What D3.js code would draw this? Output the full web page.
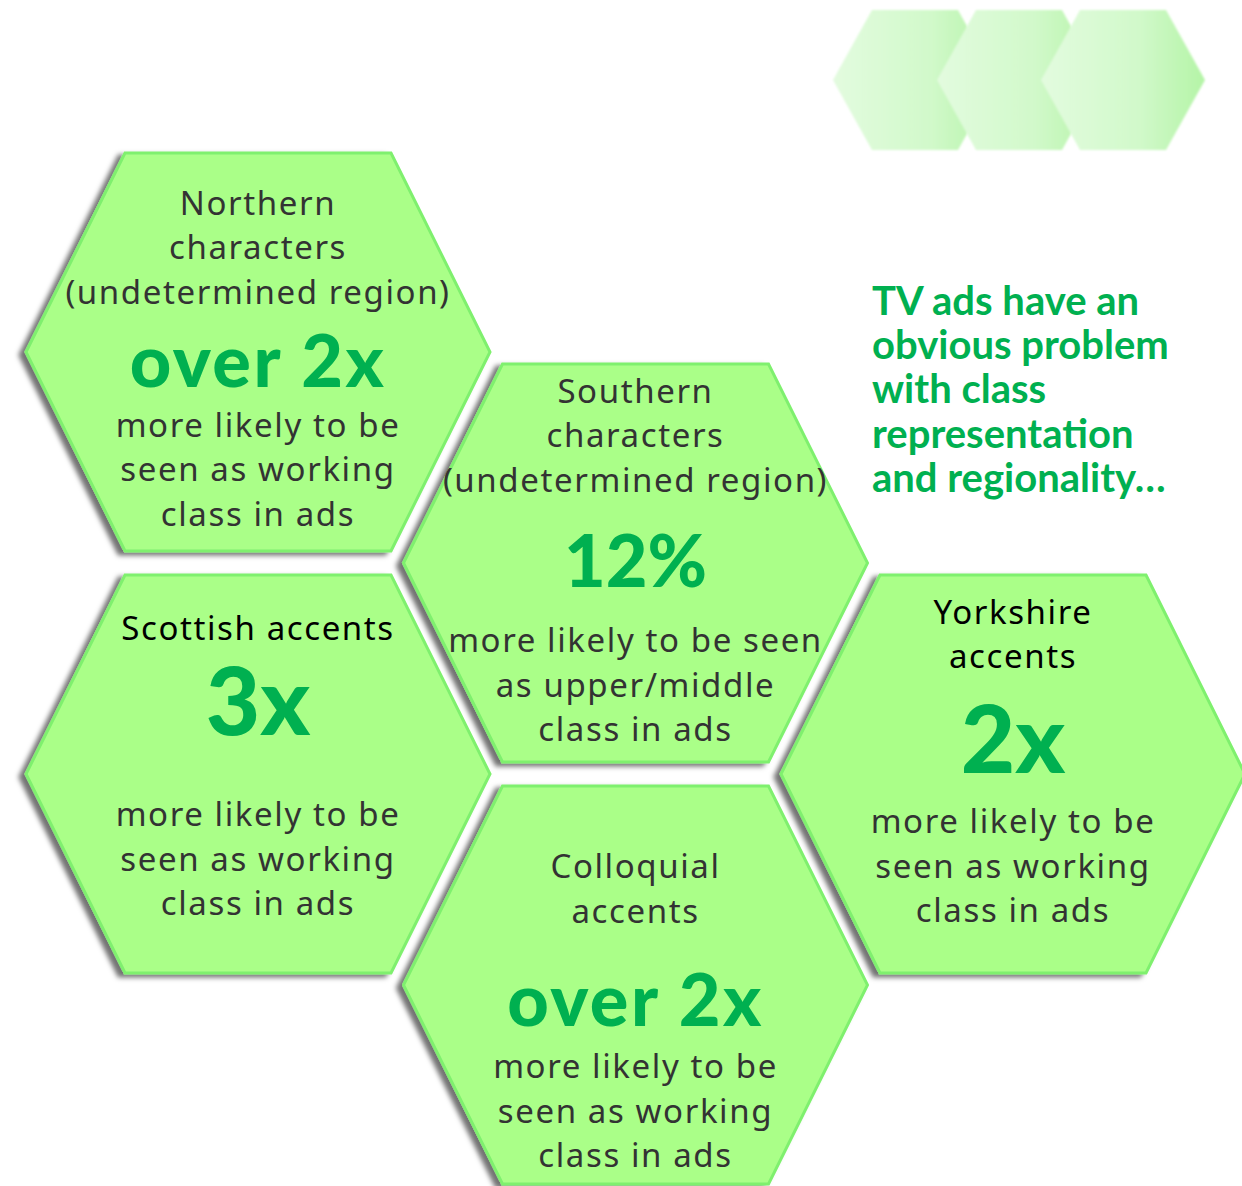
<!DOCTYPE html>
<html>
<head>
<meta charset="utf-8">
<script src="https://cdn.jsdelivr.net/npm/d3@7"></script>
<style>
  html, body { margin: 0; padding: 0; background: #fff; }
  svg { display: block; }
</style>
</head>
<body>
<svg width="1242" height="1186"></svg>
<script>
(function() {
  'use strict';

  // honeycomb cell of each statistic (draw order = back to front)
  const names = ['Northern', 'Scottish', 'Colloquial', 'Southern', 'Yorkshire'];
  const cols = [0, 0, 1, 1, 2];
  const rows = [0, 2, 3, 1, 2];
  const labels = [
    ['Northern', 'characters', '(undetermined region)'],
    ['Scottish accents'],
    ['Colloquial', 'accents'],
    ['Southern', 'characters', '(undetermined region)'],
    ['Yorkshire', 'accents'],
  ];
  const figures = ['over 2x', '3x', 'over 2x', '12%', '2x'];
  const captions = [
    ['more likely to be', 'seen as working', 'class in ads'],
    ['more likely to be', 'seen as working', 'class in ads'],
    ['more likely to be', 'seen as working', 'class in ads'],
    ['more likely to be seen', 'as upper/middle', 'class in ads'],
    ['more likely to be', 'seen as working', 'class in ads'],
  ];
  const headline = [
    'TV ads have an',
    'obvious problem',
    'with class',
    'representation',
    'and regionality\u2026',
  ];

  // where each text block sits inside its hexagon, in line units from the centre
  const slots = [
    {label: -3.08, figure: 0.79, caption: 1.91},
    {label: -3.01, figure: -0.88, caption: 1.17},
    {label: -2.40, figure: 0.92, caption: 2.09},
    {label: -3.60, figure: 0.54, caption: 2.0},
    {label: -3.38, figure: -0.02, caption: 1.33},
  ];

  const lineH = 44.5;
  const hex = {rx: 232, ry: 199, tx: 133};
  const green = '#00b050';

  const svg = d3.select('svg');

  const x = d3.scaleLinear().domain([0, 2]).range([258, 1013]);
  const y = d3.scaleLinear().domain([0, 3]).range([352, 985]);

  const items = names.map((name, i) => ({
    name: name,
    cx: x(cols[i]),
    cy: y(rows[i]),
    label: labels[i],
    figure: figures[i],
    caption: captions[i],
    slot: slots[i],
  }));

  const hexLine = d3.line().curve(d3.curveLinearClosed);
  const hexPoints = (cx, cy, rx, ry, tx) => [
    [cx - tx, cy - ry], [cx + tx, cy - ry], [cx + rx, cy],
    [cx + tx, cy + ry], [cx - tx, cy + ry], [cx - rx, cy],
  ];

  const defs = svg.append('defs');

  const shadow = defs.append('filter')
      .attr('id', 'shadow')
      .attr('x', '-10%').attr('y', '-10%')
      .attr('width', '120%').attr('height', '120%');
  shadow.append('feDropShadow')
      .attr('dx', -6)
      .attr('dy', 3)
      .attr('stdDeviation', 2.5)
      .attr('flood-color', '#000')
      .attr('flood-opacity', 0.55);

  const grad = defs.append('linearGradient')
      .attr('id', 'pale')
      .attr('x1', 0).attr('x2', 1).attr('y1', 0).attr('y2', 0);
  grad.append('stop').attr('offset', 0).attr('stop-color', '#e3fbdf');
  grad.append('stop').attr('offset', 0.6).attr('stop-color', '#d1f9ca');
  grad.append('stop').attr('offset', 1).attr('stop-color', '#b4f4a6');

  defs.append('filter')
      .attr('id', 'soft')
      .append('feGaussianBlur')
      .attr('stdDeviation', 0.8);

  // decorative pale hexagons, top right
  const dx = d3.scaleLinear().domain([0, 2]).range([915, 1123]);
  svg.append('g')
      .selectAll('path')
      .data(d3.range(3))
      .join('path')
      .attr('d', (d) => hexLine(hexPoints(dx(d), 80, 82, 70, 43)))
      .attr('fill', 'url(#pale)')
      .attr('filter', 'url(#soft)');

  // headline
  svg.append('text')
      .attr('x', 872)
      .attr('y', 315)
      .attr('fill', green)
      .style('font-family', 'Lato, sans-serif')
      .style('font-weight', 700)
      .style('font-size', '40px')
      .selectAll('tspan')
      .data(headline)
      .join('tspan')
      .attr('x', 872)
      .attr('dy', (d, i) => i === 0 ? 0 : 44.2)
      .text((d) => d);

  const cells = svg.append('g')
      .selectAll('g')
      .data(items)
      .join('g')
      .attr('class', (d) => 'cell ' + d.name);

  cells.append('path')
      .attr('d', (d) => hexLine(hexPoints(d.cx, d.cy, hex.rx, hex.ry, hex.tx)))
      .attr('fill', '#aaff88')
      .attr('stroke', '#7ff06e')
      .attr('stroke-width', 3)
      .attr('filter', 'url(#shadow)');

  const bodyFont = '"Noto Sans", sans-serif';

  cells.append('text')
      .attr('text-anchor', 'middle')
      .attr('fill', (d) => d.figure.length <= 2 ? '#000' : '#333')
      .style('font-family', bodyFont)
      .style('font-size', '33px')
      .style('letter-spacing', '1.6px')
      .selectAll('tspan')
      .data((d) => d.label.map((t, i) => ({t: t, x: d.cx, y: d.cy + (d.slot.label + i) * lineH})))
      .join('tspan')
      .attr('x', (d) => d.x)
      .attr('y', (d) => d.y)
      .text((d) => d.t);

  cells.append('text')
      .attr('text-anchor', 'middle')
      .attr('x', (d) => d.cx)
      .attr('y', (d) => d.cy + d.slot.figure * lineH)
      .attr('fill', green)
      .style('font-family', 'Lato, sans-serif')
      .style('font-weight', 900)
      .style('font-size', (d) => d.figure.length <= 2 ? '94px' : '72px')
      .style('letter-spacing', (d) => d.figure.length > 3 ? '2.5px' : '0px')
      .text((d) => d.figure);

  cells.append('text')
      .attr('text-anchor', 'middle')
      .attr('fill', '#333')
      .style('font-family', bodyFont)
      .style('font-size', '33px')
      .style('letter-spacing', '1.6px')
      .selectAll('tspan')
      .data((d) => d.caption.map((t, i) => ({t: t, x: d.cx, y: d.cy + (d.slot.caption + i) * lineH})))
      .join('tspan')
      .attr('x', (d) => d.x)
      .attr('y', (d) => d.y)
      .text((d) => d.t);
})();
</script>
</body>
</html>
